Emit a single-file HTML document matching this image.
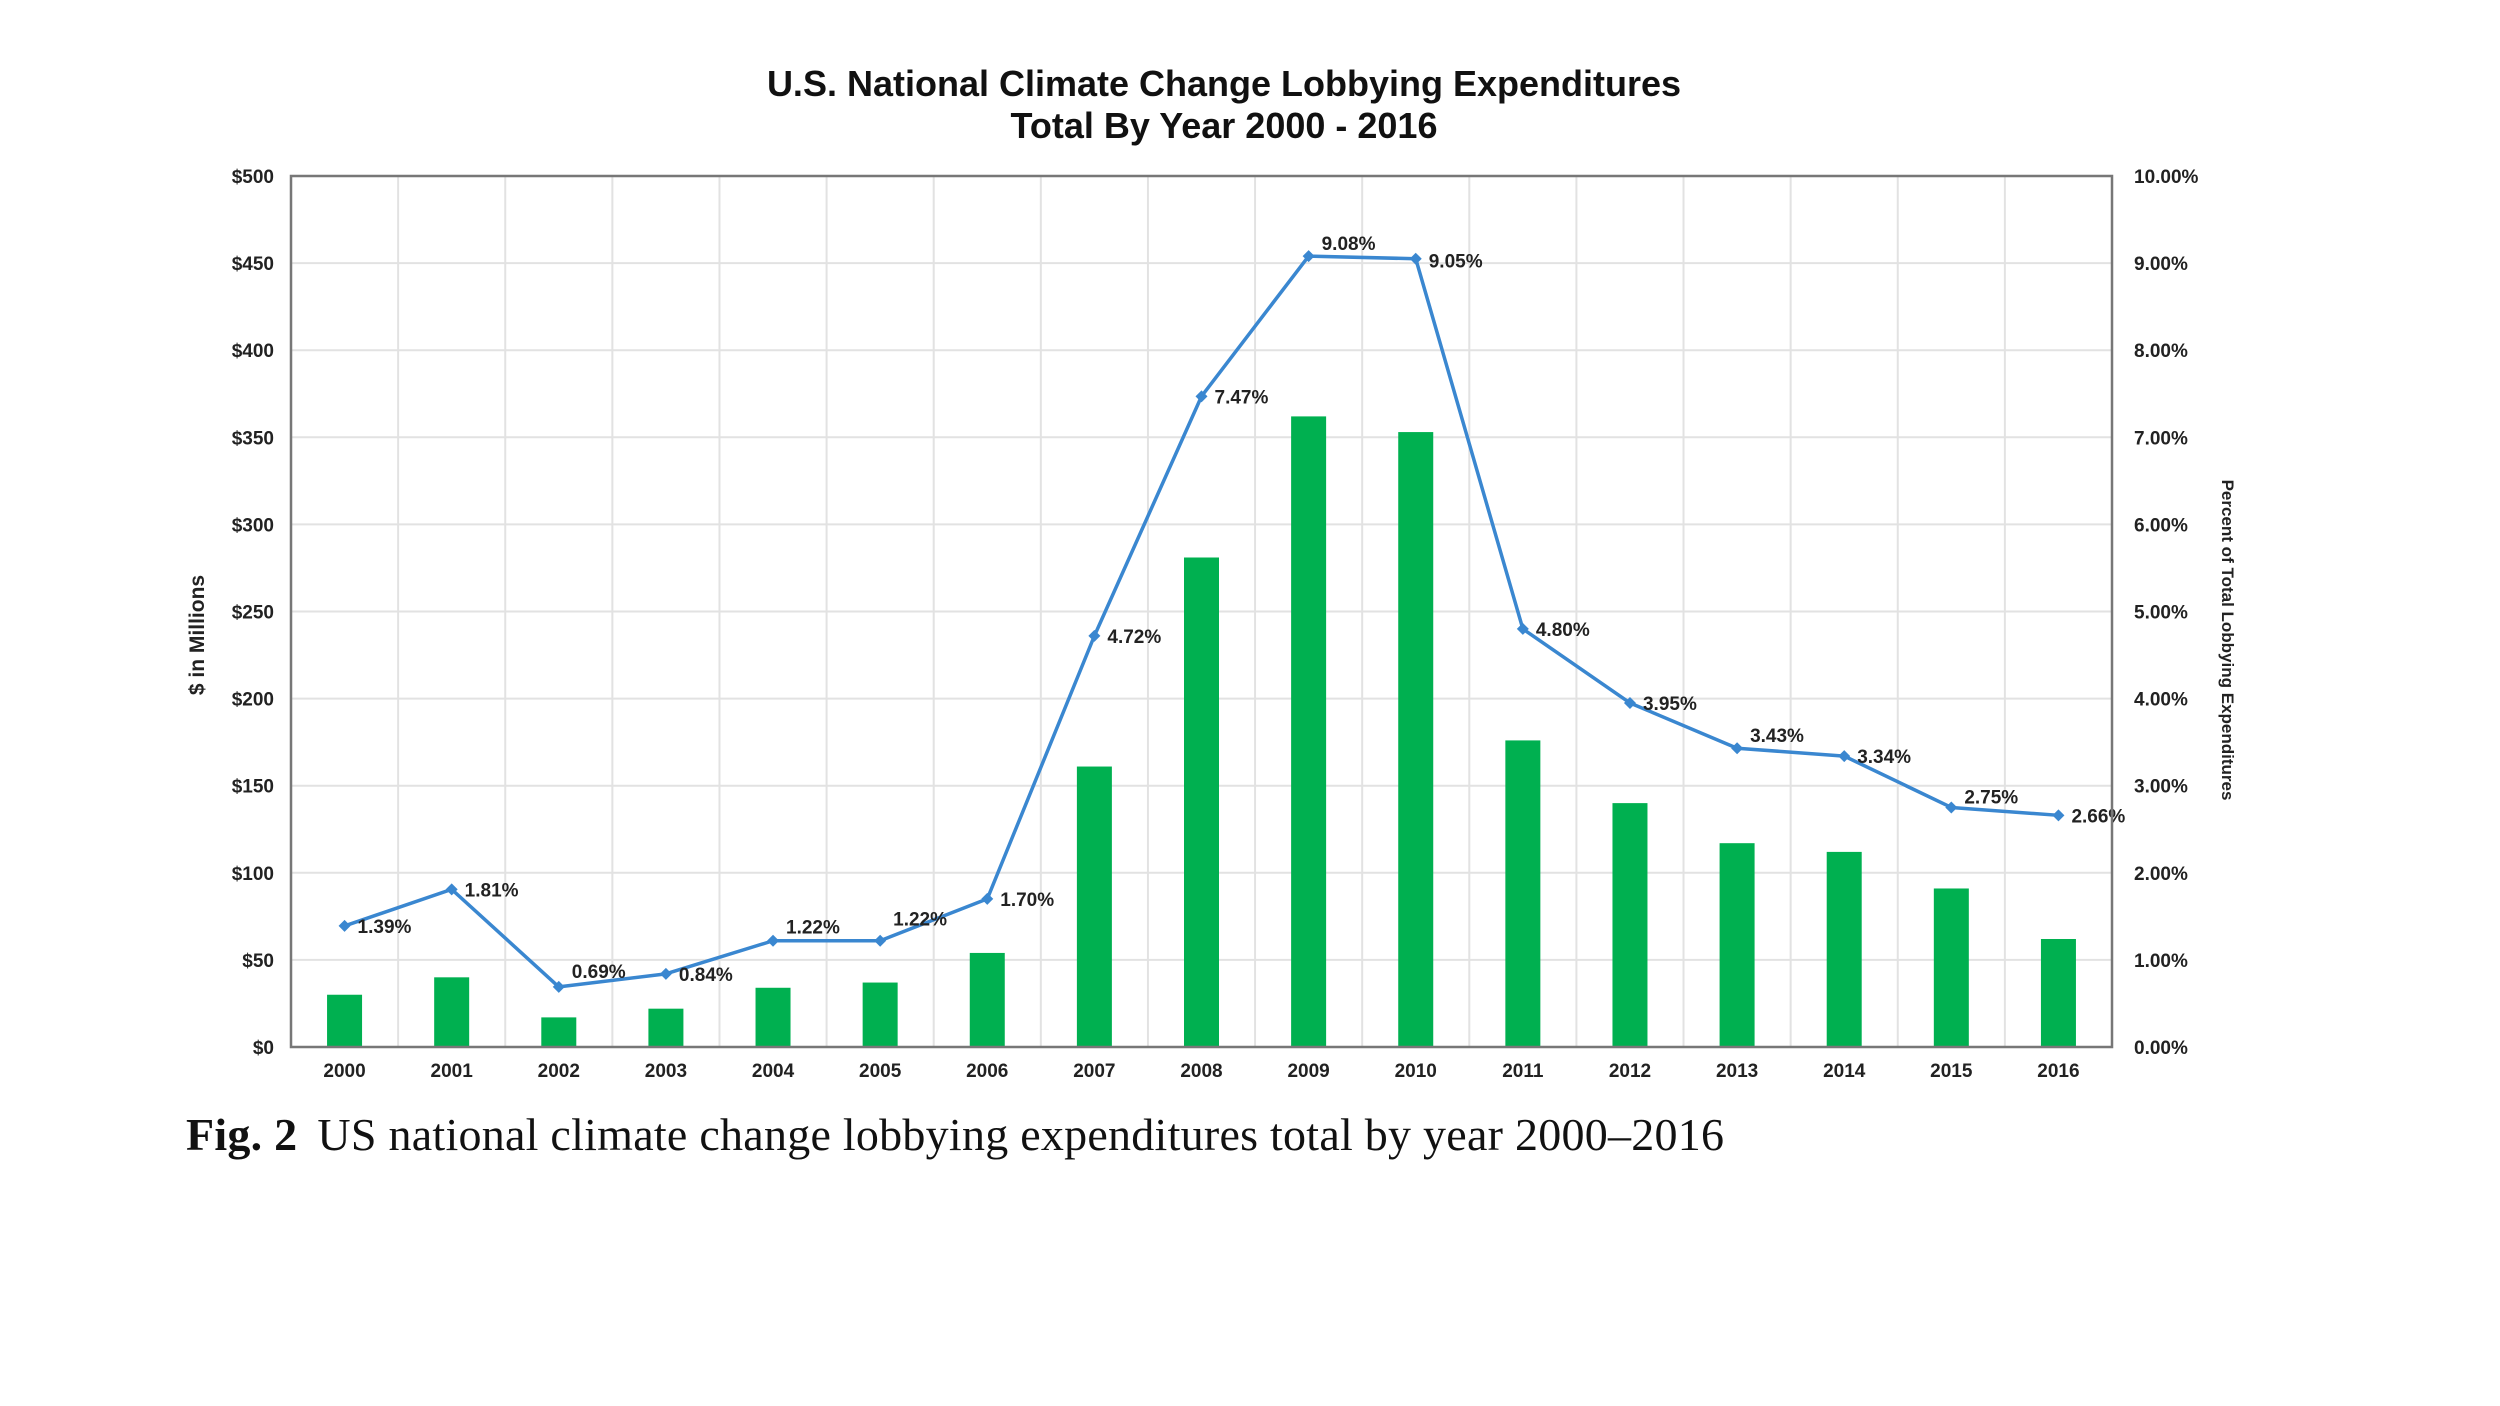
<!DOCTYPE html>
<html><head><meta charset="utf-8">
<style>
html,body{margin:0;padding:0;background:#fff;}
svg{display:block;}
.sans{font-family:"Liberation Sans",Arial,sans-serif;}
.serif{font-family:"Liberation Serif","Times New Roman",serif;}
</style></head>
<body>
<svg id="chart" width="2500" height="1406" viewBox="0 0 2500 1406" xmlns="http://www.w3.org/2000/svg">
<rect width="2500" height="1406" fill="#fff"/>
<g id="grid"></g>
<g id="bars"></g>
<g id="line"></g>
<g id="axes"></g>
<text class="sans" x="1224" y="96" text-anchor="middle" font-size="36" font-weight="bold" fill="#111">U.S. National Climate Change Lobbying Expenditures</text>
<text class="sans" x="1224" y="138" text-anchor="middle" font-size="36" font-weight="bold" fill="#111">Total By Year 2000 - 2016</text>
<text class="sans" transform="translate(204,635) rotate(-90)" text-anchor="middle" font-size="21" font-weight="bold" fill="#222">$ in Millions</text>
<text class="sans" transform="translate(2222,640) rotate(90)" text-anchor="middle" font-size="17" font-weight="bold" fill="#222">Percent of Total Lobbying Expenditures</text>
<text class="serif" x="186" y="1150" font-size="46" fill="#111" textLength="1538" lengthAdjust="spacing"><tspan font-weight="bold">Fig. 2</tspan><tspan dx="20">US national climate change lobbying expenditures total by year 2000–2016</tspan></text>
</svg>
<script>
const years = ["2000","2001","2002","2003","2004","2005","2006","2007","2008","2009","2010","2011","2012","2013","2014","2015","2016"];
const spending = [30,40,17,22,34,37,54,161,281,362,353,176,140,117,112,91,62];
const percents = [1.39,1.81,0.69,0.84,1.22,1.22,1.70,4.72,7.47,9.08,9.05,4.80,3.95,3.43,3.34,2.75,2.66];
const leftTicks = [0,50,100,150,200,250,300,350,400,450,500];
const rightTicks = [0,1,2,3,4,5,6,7,8,9,10];
const labelDy = [0,0,-16,0,-14,-22,0,0,0,-13,2,0,0,-13,0,-11,0];

const L=291,R=2112,T=176,B=1047;
const band=(R-L)/years.length;
const x=i=>L+band*(i+0.5);
const yL=v=>B-(v/500)*(B-T);
const yR=v=>B-(v/10)*(B-T);
const NS="http://www.w3.org/2000/svg";
function mk(tag,attrs,parent,txt){const e=document.createElementNS(NS,tag);for(const k in attrs)e.setAttribute(k,attrs[k]);if(txt!==undefined)e.textContent=txt;parent.appendChild(e);return e;}
const grid=document.getElementById('grid'),bars=document.getElementById('bars'),line=document.getElementById('line'),axes=document.getElementById('axes');

leftTicks.forEach(t=>{
  const g=mk('line',{x1:L,x2:R,y1:yL(t),y2:yL(t),stroke:'#e2e2e2','stroke-width':2},grid);
  
  
  const lt=mk('text',{class:'sans',x:274,y:yL(t)+7,'text-anchor':'end','font-size':19,'font-weight':'bold',fill:'#222'},axes,'$'+t);
  
  
});
rightTicks.forEach(t=>{
  const rt=mk('text',{class:'sans',x:2134,y:yR(t)+7,'font-size':19,'font-weight':'bold',fill:'#222'},axes,t.toFixed(2)+'%');
  
  
});
for(let i=1;i<years.length;i++){
  const v=mk('line',{x1:L+band*i,x2:L+band*i,y1:T,y2:B,stroke:'#e2e2e2','stroke-width':2},grid);
  
  
}
const bw=35;
years.forEach((yr,i)=>{
  const b=mk('rect',{x:x(i)-bw/2,y:yL(spending[i]),width:bw,height:B-yL(spending[i]),fill:'#00b050'},bars);
  
  
  const xl=mk('text',{class:'sans',x:x(i),y:B+30,'text-anchor':'middle','font-size':19,'font-weight':'bold',fill:'#222'},axes,yr);
  
  
});
const frame=mk('rect',{x:L,y:T,width:R-L,height:B-T,fill:'none',stroke:'#777','stroke-width':2.5},axes);



const pts=percents.map((p,i)=>x(i)+','+yR(p)).join(' ');
const pl=mk('polyline',{points:pts,fill:'none',stroke:'#3a87d0','stroke-width':3.5,'stroke-linejoin':'round'},line);


percents.forEach((p,i)=>{
  const cx=x(i),cy=yR(p);
  const m=mk('polygon',{points:`${cx},${cy-6} ${cx+6},${cy} ${cx},${cy+6} ${cx-6},${cy}`,fill:'#3a87d0'},line);
  
  
  const lb=mk('text',{class:'sans',x:cx+13,y:cy+7+labelDy[i],'font-size':19,'font-weight':'bold',fill:'#222'},line,p.toFixed(2)+'%');
  
  
});
</script>
</body></html>
